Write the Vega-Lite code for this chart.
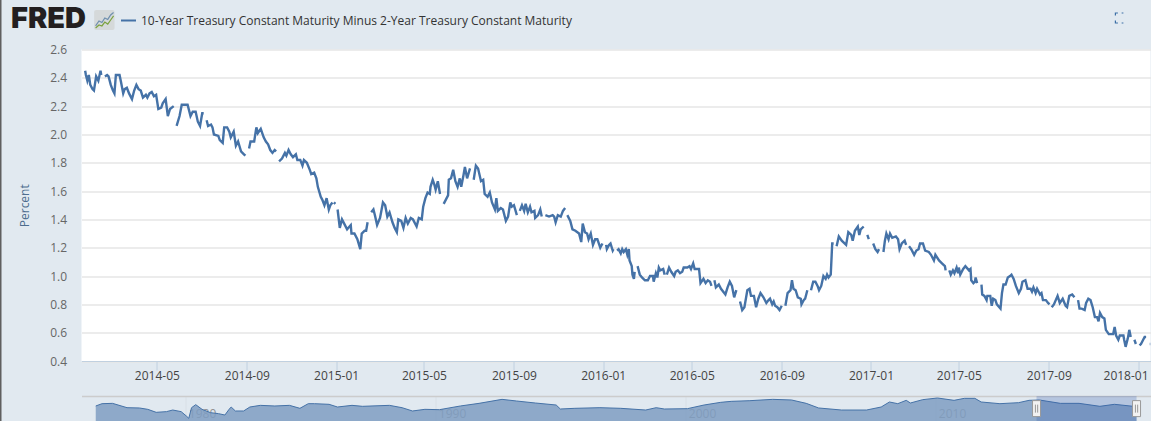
{
  "$schema": "https://vega.github.io/schema/vega-lite/v6.json",
  "background": "#e1e9f0",
  "padding": {"left": 0, "top": 0, "right": 0, "bottom": 0},
  "config": {"view": {"stroke": null}, "font": "Open Sans"},
  "title": {
    "text": "FRED",
    "font": "Inter",
    "fontSize": 29,
    "fontWeight": 900,
    "color": "#231f20",
    "anchor": "start",
    "frame": "group",
    "dx": 11,
    "offset": -34
  },
  "datasets": {
    "series": [
      {"d":"2014-01-23","v":2.45},{"d":"2014-01-24","v":2.42},{"d":"2014-01-26","v":2.38},{"d":"2014-01-28","v":2.42},{"d":"2014-01-30","v":2.35},{"d":"2014-02-02","v":2.32},{"d":"2014-02-04","v":2.31},{"d":"2014-02-07","v":2.41},{"d":"2014-02-10","v":2.38},{"d":"2014-02-13","v":2.45},{"d":"2014-02-14","v":2.42},{"d":"2014-02-17","v":null},
      {"d":"2014-02-19","v":2.41},{"d":"2014-02-22","v":2.42},{"d":"2014-02-24","v":2.41},{"d":"2014-02-27","v":2.35},{"d":"2014-03-02","v":2.31},{"d":"2014-03-04","v":2.29},{"d":"2014-03-06","v":2.42},{"d":"2014-03-11","v":2.42},{"d":"2014-03-13","v":2.37},{"d":"2014-03-16","v":2.29},{"d":"2014-03-18","v":2.32},{"d":"2014-03-21","v":2.33},{"d":"2014-03-24","v":2.29},{"d":"2014-03-28","v":2.25},{"d":"2014-03-31","v":2.31},{"d":"2014-04-03","v":2.35},{"d":"2014-04-06","v":2.32},{"d":"2014-04-09","v":2.31},{"d":"2014-04-12","v":2.26},{"d":"2014-04-16","v":2.28},{"d":"2014-04-18","v":2.26},{"d":"2014-04-21","v":2.29},{"d":"2014-04-24","v":2.3},{"d":"2014-04-27","v":2.27},{"d":"2014-04-30","v":2.28},{"d":"2014-05-03","v":2.18},{"d":"2014-05-07","v":2.19},{"d":"2014-05-09","v":2.22},{"d":"2014-05-13","v":2.25},{"d":"2014-05-16","v":2.13},{"d":"2014-05-19","v":2.18},{"d":"2014-05-24","v":2.2},{"d":"2014-05-26","v":null},
      {"d":"2014-05-28","v":2.06},{"d":"2014-06-01","v":2.13},{"d":"2014-06-04","v":2.21},{"d":"2014-06-12","v":2.21},{"d":"2014-06-16","v":2.13},{"d":"2014-06-19","v":2.16},{"d":"2014-06-23","v":2.16},{"d":"2014-06-26","v":2.09},{"d":"2014-06-29","v":2.06},{"d":"2014-07-02","v":2.15},{"d":"2014-07-04","v":2.15},{"d":"2014-07-06","v":null},
      {"d":"2014-07-08","v":2.1},{"d":"2014-07-10","v":2.06},{"d":"2014-07-14","v":2.07},{"d":"2014-07-16","v":2.05},{"d":"2014-07-18","v":2.0},{"d":"2014-07-24","v":1.99},{"d":"2014-07-26","v":1.96},{"d":"2014-07-30","v":1.94},{"d":"2014-08-01","v":2.05},{"d":"2014-08-05","v":2.05},{"d":"2014-08-08","v":2.02},{"d":"2014-08-10","v":1.98},{"d":"2014-08-14","v":2.02},{"d":"2014-08-17","v":1.92},{"d":"2014-08-20","v":1.95},{"d":"2014-08-24","v":1.88},{"d":"2014-08-28","v":1.86},{"d":"2014-08-30","v":1.85},{"d":"2014-09-01","v":null},
      {"d":"2014-09-04","v":1.9},{"d":"2014-09-06","v":1.95},{"d":"2014-09-11","v":1.95},{"d":"2014-09-14","v":2.05},{"d":"2014-09-16","v":2.01},{"d":"2014-09-20","v":2.04},{"d":"2014-09-24","v":1.98},{"d":"2014-09-27","v":1.95},{"d":"2014-09-30","v":1.93},{"d":"2014-10-03","v":1.89},{"d":"2014-10-06","v":1.87},{"d":"2014-10-09","v":1.89},{"d":"2014-10-11","v":1.88},{"d":"2014-10-13","v":null},
      {"d":"2014-10-15","v":1.81},{"d":"2014-10-19","v":1.83},{"d":"2014-10-23","v":1.87},{"d":"2014-10-25","v":1.85},{"d":"2014-10-28","v":1.89},{"d":"2014-10-31","v":1.86},{"d":"2014-11-03","v":1.84},{"d":"2014-11-07","v":1.86},{"d":"2014-11-09","v":1.82},{"d":"2014-11-13","v":1.82},{"d":"2014-11-16","v":1.78},{"d":"2014-11-18","v":1.82},{"d":"2014-11-22","v":1.8},{"d":"2014-11-26","v":1.75},{"d":"2014-11-28","v":1.72},{"d":"2014-12-02","v":1.73},{"d":"2014-12-05","v":1.69},{"d":"2014-12-07","v":1.63},{"d":"2014-12-11","v":1.56},{"d":"2014-12-13","v":1.54},{"d":"2014-12-16","v":1.5},{"d":"2014-12-19","v":1.55},{"d":"2014-12-22","v":1.47},{"d":"2014-12-24","v":1.5},{"d":"2014-12-27","v":1.52},{"d":"2014-12-28","v":null},
      {"d":"2014-12-29","v":1.52},{"d":"2014-12-31","v":1.51},{"d":"2015-01-01","v":null},
      {"d":"2015-01-03","v":1.47},{"d":"2015-01-06","v":1.34},{"d":"2015-01-09","v":1.4},{"d":"2015-01-12","v":1.37},{"d":"2015-01-16","v":1.33},{"d":"2015-01-21","v":1.36},{"d":"2015-01-22","v":1.3},{"d":"2015-01-26","v":1.3},{"d":"2015-01-30","v":1.26},{"d":"2015-02-03","v":1.19},{"d":"2015-02-05","v":1.3},{"d":"2015-02-09","v":1.32},{"d":"2015-02-11","v":1.32},{"d":"2015-02-13","v":1.38},{"d":"2015-02-16","v":null},
      {"d":"2015-02-18","v":1.45},{"d":"2015-02-21","v":1.47},{"d":"2015-02-23","v":1.43},{"d":"2015-02-26","v":1.36},{"d":"2015-03-02","v":1.41},{"d":"2015-03-06","v":1.52},{"d":"2015-03-09","v":1.5},{"d":"2015-03-12","v":1.42},{"d":"2015-03-15","v":1.45},{"d":"2015-03-19","v":1.38},{"d":"2015-03-22","v":1.34},{"d":"2015-03-25","v":1.31},{"d":"2015-03-27","v":1.4},{"d":"2015-03-31","v":1.39},{"d":"2015-04-03","v":1.34},{"d":"2015-04-06","v":1.41},{"d":"2015-04-09","v":1.37},{"d":"2015-04-13","v":1.41},{"d":"2015-04-16","v":1.4},{"d":"2015-04-21","v":1.35},{"d":"2015-04-24","v":1.41},{"d":"2015-04-28","v":1.4},{"d":"2015-04-30","v":1.49},{"d":"2015-05-03","v":1.55},{"d":"2015-05-06","v":1.59},{"d":"2015-05-09","v":1.58},{"d":"2015-05-10","v":1.63},{"d":"2015-05-13","v":1.68},{"d":"2015-05-15","v":1.65},{"d":"2015-05-17","v":1.61},{"d":"2015-05-20","v":1.67},{"d":"2015-05-23","v":1.58},{"d":"2015-05-25","v":null},
      {"d":"2015-05-28","v":1.51},{"d":"2015-05-31","v":1.54},{"d":"2015-06-03","v":1.57},{"d":"2015-06-04","v":1.68},{"d":"2015-06-07","v":1.69},{"d":"2015-06-10","v":1.75},{"d":"2015-06-13","v":1.67},{"d":"2015-06-16","v":1.63},{"d":"2015-06-19","v":1.69},{"d":"2015-06-21","v":1.63},{"d":"2015-06-24","v":1.71},{"d":"2015-06-26","v":1.77},{"d":"2015-06-29","v":1.69},{"d":"2015-07-03","v":1.76},{"d":"2015-07-05","v":null},
      {"d":"2015-07-08","v":1.68},{"d":"2015-07-11","v":1.78},{"d":"2015-07-14","v":1.76},{"d":"2015-07-18","v":1.67},{"d":"2015-07-21","v":1.68},{"d":"2015-07-23","v":1.58},{"d":"2015-07-27","v":1.56},{"d":"2015-07-30","v":1.59},{"d":"2015-08-02","v":1.52},{"d":"2015-08-06","v":1.47},{"d":"2015-08-08","v":1.55},{"d":"2015-08-10","v":1.46},{"d":"2015-08-14","v":1.48},{"d":"2015-08-17","v":1.47},{"d":"2015-08-21","v":1.39},{"d":"2015-08-24","v":1.42},{"d":"2015-08-27","v":1.52},{"d":"2015-08-29","v":1.49},{"d":"2015-09-01","v":1.5},{"d":"2015-09-05","v":1.43},{"d":"2015-09-07","v":null},
      {"d":"2015-09-09","v":1.46},{"d":"2015-09-12","v":1.5},{"d":"2015-09-15","v":1.46},{"d":"2015-09-17","v":1.51},{"d":"2015-09-20","v":1.45},{"d":"2015-09-23","v":1.49},{"d":"2015-09-25","v":1.45},{"d":"2015-09-29","v":1.46},{"d":"2015-09-30","v":1.41},{"d":"2015-10-04","v":1.43},{"d":"2015-10-07","v":1.47},{"d":"2015-10-09","v":1.42},{"d":"2015-10-12","v":null},
      {"d":"2015-10-14","v":1.43},{"d":"2015-10-19","v":1.42},{"d":"2015-10-24","v":1.43},{"d":"2015-10-26","v":1.42},{"d":"2015-10-28","v":1.38},{"d":"2015-10-31","v":1.43},{"d":"2015-11-04","v":1.42},{"d":"2015-11-07","v":1.46},{"d":"2015-11-10","v":1.48},{"d":"2015-11-11","v":null},
      {"d":"2015-11-13","v":1.43},{"d":"2015-11-17","v":1.39},{"d":"2015-11-20","v":1.33},{"d":"2015-11-24","v":1.32},{"d":"2015-11-29","v":1.3},{"d":"2015-12-02","v":1.24},{"d":"2015-12-04","v":1.37},{"d":"2015-12-07","v":1.31},{"d":"2015-12-10","v":1.3},{"d":"2015-12-12","v":1.26},{"d":"2015-12-15","v":1.3},{"d":"2015-12-18","v":1.22},{"d":"2015-12-21","v":1.26},{"d":"2015-12-24","v":1.26},{"d":"2015-12-28","v":1.2},{"d":"2015-12-29","v":1.21},{"d":"2015-12-31","v":1.23},{"d":"2016-01-02","v":null},
      {"d":"2016-01-05","v":1.22},{"d":"2016-01-06","v":1.19},{"d":"2016-01-09","v":1.22},{"d":"2016-01-11","v":1.23},{"d":"2016-01-14","v":1.18},{"d":"2016-01-15","v":1.19},{"d":"2016-01-18","v":null},
      {"d":"2016-01-20","v":1.18},{"d":"2016-01-22","v":1.19},{"d":"2016-01-25","v":1.16},{"d":"2016-01-27","v":1.19},{"d":"2016-01-29","v":1.17},{"d":"2016-02-01","v":1.19},{"d":"2016-02-03","v":1.15},{"d":"2016-02-05","v":1.19},{"d":"2016-02-06","v":1.11},{"d":"2016-02-09","v":1.07},{"d":"2016-02-10","v":1.01},{"d":"2016-02-12","v":0.98},{"d":"2016-02-13","v":1.03},{"d":"2016-02-15","v":null},
      {"d":"2016-02-17","v":1.07},{"d":"2016-02-20","v":1.01},{"d":"2016-02-23","v":0.99},{"d":"2016-02-27","v":0.97},{"d":"2016-03-02","v":0.97},{"d":"2016-03-05","v":1.0},{"d":"2016-03-09","v":1.0},{"d":"2016-03-10","v":0.96},{"d":"2016-03-13","v":1.02},{"d":"2016-03-15","v":0.99},{"d":"2016-03-17","v":1.06},{"d":"2016-03-19","v":1.04},{"d":"2016-03-23","v":1.05},{"d":"2016-03-25","v":1.01},{"d":"2016-03-26","v":null},
      {"d":"2016-03-28","v":1.01},{"d":"2016-03-31","v":1.06},{"d":"2016-04-03","v":1.03},{"d":"2016-04-07","v":1.0},{"d":"2016-04-09","v":1.03},{"d":"2016-04-12","v":1.04},{"d":"2016-04-15","v":1.02},{"d":"2016-04-18","v":1.03},{"d":"2016-04-20","v":1.06},{"d":"2016-04-25","v":1.06},{"d":"2016-04-28","v":1.07},{"d":"2016-04-30","v":1.05},{"d":"2016-05-03","v":1.09},{"d":"2016-05-05","v":1.05},{"d":"2016-05-11","v":1.05},{"d":"2016-05-13","v":0.95},{"d":"2016-05-17","v":0.98},{"d":"2016-05-20","v":0.95},{"d":"2016-05-23","v":0.97},{"d":"2016-05-26","v":0.96},{"d":"2016-05-28","v":0.93},{"d":"2016-05-30","v":null},
      {"d":"2016-06-01","v":0.97},{"d":"2016-06-03","v":0.92},{"d":"2016-06-07","v":0.94},{"d":"2016-06-10","v":0.91},{"d":"2016-06-16","v":0.87},{"d":"2016-06-19","v":0.92},{"d":"2016-06-22","v":0.96},{"d":"2016-06-25","v":0.93},{"d":"2016-06-28","v":0.85},{"d":"2016-07-01","v":0.9},{"d":"2016-07-04","v":null},
      {"d":"2016-07-06","v":0.82},{"d":"2016-07-09","v":0.76},{"d":"2016-07-12","v":0.78},{"d":"2016-07-16","v":0.9},{"d":"2016-07-19","v":0.91},{"d":"2016-07-21","v":0.86},{"d":"2016-07-25","v":0.86},{"d":"2016-07-28","v":0.78},{"d":"2016-07-31","v":0.84},{"d":"2016-08-03","v":0.88},{"d":"2016-08-07","v":0.85},{"d":"2016-08-11","v":0.81},{"d":"2016-08-14","v":0.83},{"d":"2016-08-16","v":0.84},{"d":"2016-08-19","v":0.8},{"d":"2016-08-21","v":0.82},{"d":"2016-08-23","v":0.79},{"d":"2016-08-26","v":0.78},{"d":"2016-08-29","v":0.76},{"d":"2016-09-01","v":0.79},{"d":"2016-09-04","v":null},
      {"d":"2016-09-06","v":0.79},{"d":"2016-09-09","v":0.88},{"d":"2016-09-13","v":0.9},{"d":"2016-09-15","v":0.97},{"d":"2016-09-17","v":0.91},{"d":"2016-09-20","v":0.9},{"d":"2016-09-23","v":0.85},{"d":"2016-09-27","v":0.84},{"d":"2016-09-28","v":0.8},{"d":"2016-10-01","v":0.83},{"d":"2016-10-03","v":0.84},{"d":"2016-10-06","v":0.9},{"d":"2016-10-09","v":null},
      {"d":"2016-10-11","v":0.9},{"d":"2016-10-14","v":0.96},{"d":"2016-10-17","v":0.96},{"d":"2016-10-20","v":0.93},{"d":"2016-10-22","v":0.9},{"d":"2016-10-25","v":0.93},{"d":"2016-10-28","v":1.0},{"d":"2016-10-31","v":0.98},{"d":"2016-11-02","v":1.01},{"d":"2016-11-04","v":0.99},{"d":"2016-11-07","v":1.01},{"d":"2016-11-09","v":1.23},{"d":"2016-11-11","v":1.23},{"d":"2016-11-13","v":null},
      {"d":"2016-11-15","v":1.21},{"d":"2016-11-18","v":1.28},{"d":"2016-11-22","v":1.25},{"d":"2016-11-28","v":1.22},{"d":"2016-12-01","v":1.31},{"d":"2016-12-05","v":1.29},{"d":"2016-12-07","v":1.25},{"d":"2016-12-10","v":1.32},{"d":"2016-12-14","v":1.35},{"d":"2016-12-16","v":1.29},{"d":"2016-12-18","v":1.33},{"d":"2016-12-22","v":1.35},{"d":"2016-12-25","v":null},
      {"d":"2016-12-27","v":1.29},{"d":"2016-12-29","v":1.26},{"d":"2017-01-01","v":null},
      {"d":"2017-01-04","v":1.23},{"d":"2017-01-07","v":1.19},{"d":"2017-01-10","v":1.17},{"d":"2017-01-12","v":1.19},{"d":"2017-01-15","v":null},
      {"d":"2017-01-18","v":1.17},{"d":"2017-01-20","v":1.25},{"d":"2017-01-22","v":1.3},{"d":"2017-01-25","v":1.26},{"d":"2017-01-27","v":1.3},{"d":"2017-01-30","v":1.27},{"d":"2017-02-04","v":1.28},{"d":"2017-02-07","v":1.26},{"d":"2017-02-09","v":1.19},{"d":"2017-02-12","v":1.23},{"d":"2017-02-16","v":1.25},{"d":"2017-02-18","v":1.22},{"d":"2017-02-20","v":null},
      {"d":"2017-02-22","v":1.21},{"d":"2017-02-25","v":1.19},{"d":"2017-03-01","v":1.15},{"d":"2017-03-04","v":1.18},{"d":"2017-03-07","v":1.19},{"d":"2017-03-09","v":1.23},{"d":"2017-03-13","v":1.23},{"d":"2017-03-16","v":1.18},{"d":"2017-03-21","v":1.17},{"d":"2017-03-24","v":1.15},{"d":"2017-03-28","v":1.11},{"d":"2017-03-30","v":1.15},{"d":"2017-04-04","v":1.11},{"d":"2017-04-08","v":1.09},{"d":"2017-04-12","v":1.07},{"d":"2017-04-13","v":1.04},{"d":"2017-04-16","v":null},
      {"d":"2017-04-18","v":1.04},{"d":"2017-04-20","v":1.01},{"d":"2017-04-23","v":1.04},{"d":"2017-04-25","v":1.02},{"d":"2017-04-28","v":1.06},{"d":"2017-04-30","v":1.02},{"d":"2017-05-01","v":1.06},{"d":"2017-05-03","v":1.01},{"d":"2017-05-07","v":1.05},{"d":"2017-05-10","v":1.07},{"d":"2017-05-15","v":1.04},{"d":"2017-05-17","v":1.05},{"d":"2017-05-18","v":0.97},{"d":"2017-05-21","v":0.95},{"d":"2017-05-23","v":0.96},{"d":"2017-05-24","v":0.99},{"d":"2017-05-26","v":0.95},{"d":"2017-05-29","v":null},
      {"d":"2017-06-01","v":0.94},{"d":"2017-06-02","v":0.87},{"d":"2017-06-05","v":0.86},{"d":"2017-06-08","v":0.83},{"d":"2017-06-09","v":0.86},{"d":"2017-06-13","v":0.86},{"d":"2017-06-15","v":0.79},{"d":"2017-06-17","v":0.84},{"d":"2017-06-20","v":0.83},{"d":"2017-06-22","v":0.8},{"d":"2017-06-27","v":0.77},{"d":"2017-06-29","v":0.88},{"d":"2017-07-01","v":0.94},{"d":"2017-07-04","v":0.94},{"d":"2017-07-07","v":0.99},{"d":"2017-07-10","v":1.0},{"d":"2017-07-12","v":1.01},{"d":"2017-07-15","v":0.98},{"d":"2017-07-18","v":0.93},{"d":"2017-07-22","v":0.88},{"d":"2017-07-25","v":0.91},{"d":"2017-07-27","v":0.96},{"d":"2017-07-31","v":0.97},{"d":"2017-08-03","v":0.91},{"d":"2017-08-07","v":0.91},{"d":"2017-08-09","v":0.89},{"d":"2017-08-11","v":0.92},{"d":"2017-08-14","v":0.88},{"d":"2017-08-16","v":0.91},{"d":"2017-08-20","v":0.87},{"d":"2017-08-22","v":0.88},{"d":"2017-08-24","v":0.83},{"d":"2017-08-28","v":0.83},{"d":"2017-08-31","v":0.81},{"d":"2017-09-02","v":0.8},{"d":"2017-09-03","v":null},
      {"d":"2017-09-05","v":0.78},{"d":"2017-09-08","v":0.8},{"d":"2017-09-13","v":0.86},{"d":"2017-09-16","v":0.81},{"d":"2017-09-20","v":0.84},{"d":"2017-09-24","v":0.79},{"d":"2017-09-26","v":0.78},{"d":"2017-09-29","v":0.86},{"d":"2017-10-03","v":0.87},{"d":"2017-10-06","v":0.85},{"d":"2017-10-09","v":null},
      {"d":"2017-10-11","v":0.83},{"d":"2017-10-13","v":0.77},{"d":"2017-10-16","v":0.77},{"d":"2017-10-20","v":0.76},{"d":"2017-10-22","v":0.81},{"d":"2017-10-25","v":0.84},{"d":"2017-10-28","v":0.83},{"d":"2017-10-31","v":0.78},{"d":"2017-11-03","v":0.71},{"d":"2017-11-06","v":0.71},{"d":"2017-11-08","v":0.68},{"d":"2017-11-10","v":0.74},{"d":"2017-11-13","v":0.71},{"d":"2017-11-16","v":0.7},{"d":"2017-11-18","v":0.62},{"d":"2017-11-22","v":0.59},{"d":"2017-11-25","v":0.59},{"d":"2017-11-28","v":0.59},{"d":"2017-11-30","v":0.64},{"d":"2017-12-02","v":0.58},{"d":"2017-12-05","v":0.55},{"d":"2017-12-07","v":0.58},{"d":"2017-12-12","v":0.58},{"d":"2017-12-13","v":0.55},{"d":"2017-12-15","v":0.5},{"d":"2017-12-18","v":0.56},{"d":"2017-12-20","v":0.62},{"d":"2017-12-22","v":0.57},{"d":"2017-12-25","v":null},
      {"d":"2017-12-27","v":0.55},{"d":"2017-12-29","v":0.52},{"d":"2018-01-01","v":null},
      {"d":"2018-01-03","v":0.51},{"d":"2018-01-05","v":0.52},{"d":"2018-01-08","v":0.55},{"d":"2018-01-10","v":0.57},{"d":"2018-01-12","v":0.57},{"d":"2018-01-15","v":null},
      {"d":"2018-01-17","v":0.52},{"d":"2018-01-18","v":0.52}
    ],
    "history": [
      {"d":"1976-06-01","v":0.8},{"d":"1976-09-01","v":1.41},{"d":"1977-02-01","v":1.5},{"d":"1977-09-01","v":0.35},{"d":"1978-03-01","v":0.27},{"d":"1978-07-01","v":-0.09},{"d":"1978-11-01","v":-0.88},{"d":"1979-04-01","v":-0.7},{"d":"1979-07-01","v":-0.27},{"d":"1979-11-01","v":-0.7},{"d":"1980-01-15","v":-1.85},{"d":"1980-02-20","v":-2.47},{"d":"1980-04-01","v":0.35},{"d":"1980-06-01","v":1.15},{"d":"1980-09-01","v":-0.09},{"d":"1981-01-01","v":-0.97},{"d":"1981-05-01","v":-1.24},{"d":"1981-08-01","v":-1.6},{"d":"1981-10-01","v":-0.09},{"d":"1981-11-01","v":0.53},{"d":"1982-01-01","v":-0.53},{"d":"1982-05-01","v":-0.53},{"d":"1982-08-01","v":0.53},{"d":"1983-01-01","v":0.97},{"d":"1983-08-01","v":0.8},{"d":"1984-03-01","v":0.97},{"d":"1984-08-01","v":0.18},{"d":"1984-12-01","v":1.41},{"d":"1985-03-01","v":1.41},{"d":"1985-10-01","v":1.24},{"d":"1986-02-01","v":0.53},{"d":"1986-09-01","v":0.97},{"d":"1987-02-01","v":0.71},{"d":"1988-03-01","v":0.97},{"d":"1988-09-01","v":0.35},{"d":"1989-02-01","v":-0.53},{"d":"1989-08-01","v":-0.09},{"d":"1990-03-01","v":-0.18},{"d":"1991-01-01","v":0.8},{"d":"1991-10-01","v":1.5},{"d":"1992-09-01","v":2.56},{"d":"1993-04-01","v":2.12},{"d":"1994-01-01","v":1.59},{"d":"1994-11-01","v":1.06},{"d":"1995-01-01","v":0},{"d":"1995-08-01","v":0.18},{"d":"1996-08-01","v":0.35},{"d":"1997-06-01","v":0.18},{"d":"1998-06-01","v":-0.27},{"d":"1998-11-01","v":0.35},{"d":"1999-03-01","v":0},{"d":"2000-02-01","v":0.09},{"d":"2000-10-01","v":1.06},{"d":"2001-06-01","v":1.77},{"d":"2001-11-01","v":2.03},{"d":"2002-08-01","v":2.21},{"d":"2003-07-01","v":2.56},{"d":"2004-04-01","v":2.39},{"d":"2004-11-01","v":1.5},{"d":"2005-05-01","v":0.27},{"d":"2006-04-01","v":-0.27},{"d":"2007-04-01","v":-0.27},{"d":"2007-11-01","v":0.53},{"d":"2008-03-01","v":1.86},{"d":"2008-07-01","v":1.41},{"d":"2008-11-01","v":2.3},{"d":"2009-01-01","v":1.59},{"d":"2009-07-01","v":2.48},{"d":"2010-02-01","v":2.92},{"d":"2010-10-01","v":2.3},{"d":"2011-03-01","v":2.83},{"d":"2011-08-01","v":2.83},{"d":"2011-11-01","v":1.86},{"d":"2012-08-01","v":1.41},{"d":"2013-05-01","v":1.68},{"d":"2013-10-01","v":2.3},{"d":"2014-03-01","v":2.39},{"d":"2015-01-01","v":1.5},{"d":"2015-10-01","v":1.5},{"d":"2016-08-01","v":0.71},{"d":"2017-03-01","v":1.24},{"d":"2018-01-18","v":0.62}
    ],
    "selection": [{"start":"2014-01-18","end":"2018-01-18"}],
    "logo": [
      {"k":14.5,"s":"a","v":-0.79},{"k":18,"s":"a","v":-0.45},{"k":21,"s":"a","v":-0.55},{"k":24,"s":"a","v":-0.24},{"k":27,"s":"a","v":-0.34},{"k":30,"s":"a","v":-0.03},{"k":33,"s":"a","v":0.14},
      {"k":14.5,"s":"b","v":-0.93},{"k":18,"s":"b","v":-0.72},{"k":21,"s":"b","v":-0.79},{"k":24,"s":"b","v":-0.52},{"k":27,"s":"b","v":-0.66},{"k":30,"s":"b","v":-0.38},{"k":33,"s":"b","v":-0.1}
    ]
  },
  "hconcat": [
    {
      "width": 1.5,
      "height": 421,
      "view": {"fill": "#5f5f5f", "stroke": null},
      "data": {"values": [{}]},
      "mark": {"type": "rect", "opacity": 0}
    },
    {
      "vconcat": [
        {
          "width": 1069,
          "height": 14.5,
          "layer": [
            {
              "data": {"values": [{"x0": 13, "x1": 34, "y0": 0.31, "y1": -1.07}]},
              "mark": {"type": "rect", "color": "#d5d9da", "cornerRadius": 2},
              "encoding": {
                "x": {"field": "x0", "type": "quantitative", "scale": {"domain": [0, 1069]}, "axis": null},
                "x2": {"field": "x1"},
                "y": {"field": "y0", "type": "quantitative", "scale": {"domain": [0, 1]}, "axis": null},
                "y2": {"field": "y1"}
              }
            },
            {
              "data": {"name": "logo"},
              "mark": {"type": "line", "strokeWidth": 1.2},
              "encoding": {
                "x": {"field": "k", "type": "quantitative"},
                "y": {"field": "v", "type": "quantitative"},
                "detail": {"field": "s"},
                "stroke": {"field": "s", "type": "nominal", "scale": {"domain": ["a", "b"], "range": ["#6f8fae", "#7ba23f"]}, "legend": null}
              }
            },
            {
              "data": {"values": [{"k": 1068, "v": -0.24}]},
              "mark": {"type": "point", "shape": "M-.8,-.5V-1H-.3 M-.8,.5V1H-.3 M.45,-1H.8 M.45,1H.8", "size": 100, "filled": false, "stroke": "#3a6ea5", "strokeWidth": 1.2, "opacity": 1},
              "encoding": {
                "x": {"field": "k", "type": "quantitative"},
                "y": {"field": "v", "type": "quantitative"}
              }
            }
          ]
        },
        {
          "width": 1069,
          "height": 311.5,
          "view": {"fill": "#ffffff", "stroke": null},
          "data": {"name": "series"},
          "mark": {"type": "line", "strokeWidth": 2.4, "interpolate": "linear", "clip": true},
          "encoding": {
            "x": {
              "field": "d",
              "type": "temporal",
              "scale": {"domain": ["2014-01-18", "2018-01-18"]},
              "axis": {
                "title": null,
                "format": "%Y-%m",
                "tickCount": {"interval": "month", "step": 4},
                "grid": false,
                "domainColor": "#c0d0e0",
                "tickColor": "#c0d0e0",
                "tickSize": 9,
                "labelColor": "#444444",
                "labelFontSize": 12,
                "labelFont": "Open Sans",
                "labelPadding": 0,
                "labelFlush": 13,
                "labelFlushOffset": 10,
                "labelOverlap": false
              }
            },
            "y": {
              "field": "v",
              "type": "quantitative",
              "scale": {"domain": [0.4, 2.6], "nice": false, "zero": false},
              "axis": {
                "title": "Percent",
                "titleColor": "#4d6d8e",
                "titleFont": "Open Sans",
                "titleFontSize": 12,
                "titleFontWeight": "normal",
                "titlePadding": 18,
                "values": [0.4, 0.6, 0.8, 1.0, 1.2, 1.4, 1.6, 1.8, 2.0, 2.2, 2.4, 2.6],
                "format": ".1f",
                "gridColor": "#e6e6e6",
                "gridWidth": 1.5,
                "domain": false,
                "ticks": false,
                "labelColor": "#666666",
                "labelFontSize": 12,
                "labelFont": "Open Sans",
                "labelPadding": 15
              }
            },
            "color": {
              "datum": "10-Year Treasury Constant Maturity Minus 2-Year Treasury Constant Maturity",
              "scale": {"range": ["#4572a7"]},
              "legend": {
                "orient": "none",
                "legendX": 120,
                "legendY": 12,
                "title": null,
                "padding": 0,
                "symbolType": "stroke",
                "symbolSize": 225,
                "symbolStrokeWidth": 2,
                "labelFont": "Open Sans",
                "labelFontSize": 12,
                "labelColor": "#333333",
                "labelOffset": 4,
                "labelLimit": 600
              }
            }
          }
        },
        {
          "width": 1069,
          "height": 26,
          "layer": [
            {
              "data": {"name": "history"},
              "mark": {"type": "area", "color": "#7f9dc2", "opacity": 0.85, "line": {"color": "#4572a7", "strokeWidth": 1}},
              "encoding": {
                "x": {
                  "field": "d",
                  "type": "temporal",
                  "scale": {"domain": ["1975-11-06", "2018-08-10"]},
                  "axis": {
                    "title": null,
                    "tickCount": {"interval": "year", "step": 10},
                    "format": "%Y",
                    "grid": true,
                    "gridColor": "#d8dfe6",
                    "domain": false,
                    "ticks": false,
                    "tickSize": 0,
                    "labelAlign": "left",
                    "labelBaseline": "middle",
                    "labelOffset": 3,
                    "labelPadding": -9,
                    "labelColor": "#8f8f8f",
                    "labelFontSize": 12,
                    "labelFont": "Open Sans"
                  }
                },
                "y": {
                  "field": "v",
                  "type": "quantitative",
                  "scale": {"domain": [-3.45, 3.45], "nice": false, "zero": false},
                  "axis": {
                    "title": null,
                    "values": [3.45],
                    "grid": true,
                    "gridColor": "#cccccc",
                    "gridWidth": 1.5,
                    "labels": false,
                    "ticks": false,
                    "domain": false
                  }
                },
                "y2": {"datum": -3.2}
              }
            },
            {
              "data": {"name": "selection"},
              "mark": {"type": "rect", "color": "#335cad", "opacity": 0.25},
              "encoding": {
                "x": {"field": "start", "type": "temporal"},
                "x2": {"field": "end"}
              }
            },
            {
              "data": {"name": "selection"},
              "mark": {"type": "point", "shape": "M-.5,-1H.5V1H-.5Z M-.14,-.5V.5 M.14,-.5V.5", "size": 256, "filled": false, "fill": "#f2f2f2", "fillOpacity": 1, "stroke": "#999999", "strokeWidth": 1, "opacity": 1},
              "encoding": {
                "x": {"field": "start", "type": "temporal"},
                "y": {"datum": 0.1}
              }
            },
            {
              "data": {"name": "selection"},
              "mark": {"type": "point", "shape": "M-.5,-1H.5V1H-.5Z M-.14,-.5V.5 M.14,-.5V.5", "size": 256, "filled": false, "fill": "#f2f2f2", "fillOpacity": 1, "stroke": "#999999", "strokeWidth": 1, "opacity": 1},
              "encoding": {
                "x": {"field": "end", "type": "temporal"},
                "y": {"datum": 0.1}
              }
            }
          ]
        }
      ],
      "spacing": 34.5,
      "bounds": "flush"
    }
  ],
  "spacing": 79.5,
  "bounds": "flush"
}
